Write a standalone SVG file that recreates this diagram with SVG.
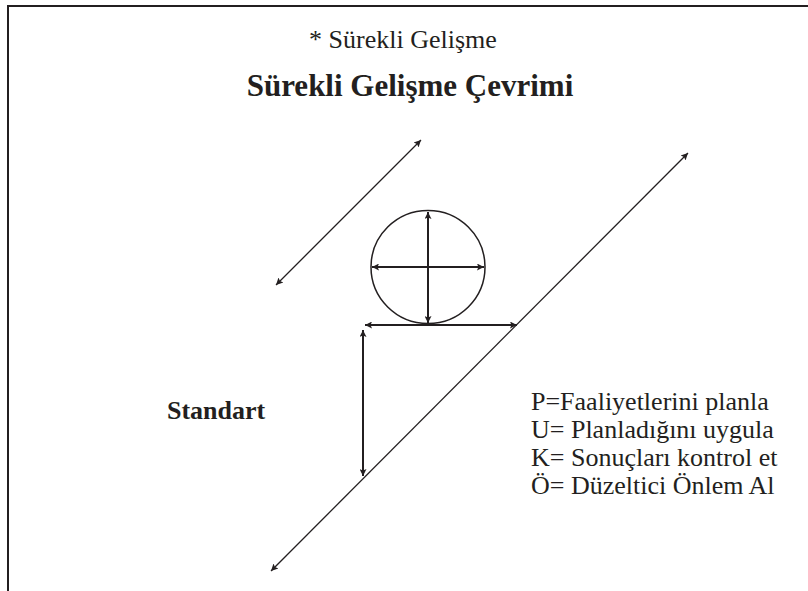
<svg xmlns="http://www.w3.org/2000/svg" width="808" height="591" viewBox="0 0 808 591">
<style>
text{font-family:"Liberation Serif","Times New Roman",serif;fill:#231f20}
.b{font-weight:bold}
.thick{stroke:#231f20;stroke-width:2;fill:none}
.thin{stroke:#231f20;stroke-width:1.3;fill:none}
</style>
<defs>
<marker id="ah" viewBox="0 0 10 10" refX="10" refY="5" markerWidth="9" markerHeight="7" markerUnits="userSpaceOnUse" orient="auto-start-reverse">
<path d="M0,0 L10,5 L0,10 L2,5 z" fill="#231f20"/>
</marker>
</defs>
<rect width="808" height="591" fill="#fff"/>
<g id="frame">
<path d="M8,591 L8,6 L808,6" stroke="#231f20" stroke-width="2" fill="none"/>
</g>
<g id="title">
<text x="403" y="48" font-size="26" text-anchor="middle">* Sürekli Gelişme</text>
<text x="410" y="96" font-size="31" class="b" text-anchor="middle">Sürekli Gelişme Çevrimi</text>
</g>
<g id="circle">
<ellipse cx="428" cy="267" rx="57" ry="56.5" stroke="#231f20" stroke-width="1.5" fill="none"/>
</g>
<g id="standart">
<text x="167" y="419" font-size="26" class="b">Standart</text>
</g>
<g id="legend">
<text x="531" y="410" font-size="26">P=Faaliyetlerini planla</text>
<text x="531" y="438" font-size="26">U= Planladığını uygula</text>
<text x="531" y="466" font-size="26">K= Sonuçları kontrol et</text>
<text x="531" y="494" font-size="26">Ö= Düzeltici Önlem Al</text>
</g>
<g id="connectors">
<line class="thin" x1="276" y1="285" x2="421" y2="140" marker-start="url(#ah)" marker-end="url(#ah)"/>
<line class="thin" x1="271" y1="571" x2="688" y2="153" marker-start="url(#ah)" marker-end="url(#ah)"/>
<line class="thick" x1="428" y1="212" x2="428" y2="323" marker-start="url(#ah)" marker-end="url(#ah)"/>
<line class="thick" x1="372" y1="267" x2="484" y2="267" marker-start="url(#ah)" marker-end="url(#ah)"/>
<line class="thick" x1="365" y1="325" x2="517" y2="325" marker-start="url(#ah)" marker-end="url(#ah)"/>
<line class="thick" x1="363" y1="330" x2="363" y2="476" marker-start="url(#ah)" marker-end="url(#ah)"/>
</g>
</svg>
